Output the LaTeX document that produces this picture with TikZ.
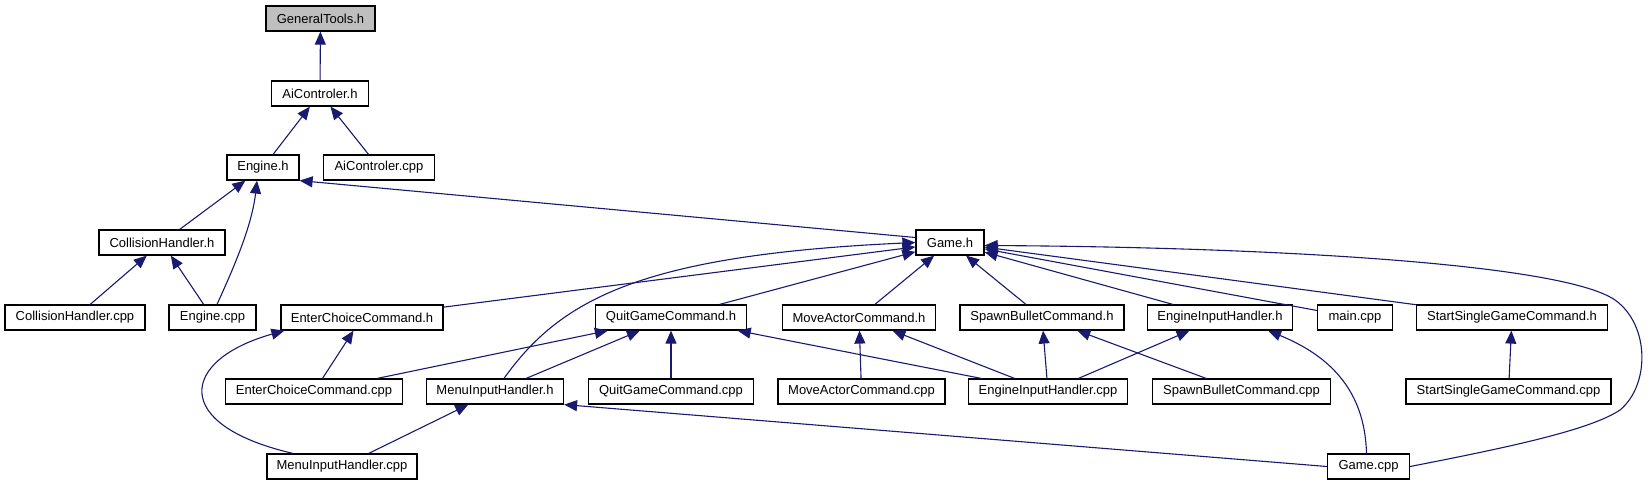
\documentclass[tikz,border=0pt]{standalone}
\usepackage{fontspec}
\setmainfont{Liberation Sans}
\definecolor{edgeblue}{HTML}{191970}
\definecolor{rootgray}{HTML}{BFBFBF}
\usepackage{tikz}
\usetikzlibrary{
    arrows.meta,
    calc
}
\tikzstyle{filebox} = [
    rectangle,
    draw=black,
    fill=white,
    line width=1.2pt,
    minimum height=25pt,
    inner sep=0pt,
    font=\fontsize{13}{15}\selectfont
]
\tikzstyle{rootbox} = [
    filebox,
    fill=rootgray
]
\tikzstyle{dep} = [
    -{Triangle[length=13pt,width=11pt,fill=edgeblue]},
    line width=1.1pt,
    draw=edgeblue
]

\begin{document}
\begin{tikzpicture}[x=1pt, y=-1pt]
    \useasboundingbox (0,0) rectangle (1650,485);
    % nodes
    \node[rootbox, minimum width=109pt] (gen) at (320.5,18.5) {GeneralTools.h};
    \node[filebox, minimum width=97pt] (aich) at (320,93.5) {AiControler.h};
    \node[filebox, minimum width=72pt] (engh) at (263,167.5) {Engine.h};
    \node[filebox, minimum width=111pt] (aiccpp) at (379,167.5) {AiControler.cpp};
    \node[filebox, minimum width=126pt] (collh) at (162,242.5) {CollisionHandler.h};
    \node[filebox, minimum width=68pt] (gameh) at (950,242.5) {Game.h};
    \node[filebox, minimum width=140pt] (collcpp) at (75,317.5) {CollisionHandler.cpp};
    \node[filebox, minimum width=87pt] (engcpp) at (212.5,317.5) {Engine.cpp};
    \node[filebox, minimum width=162pt] (entch) at (362,317.5) {EnterChoiceCommand.h};
    \node[filebox, minimum width=151pt] (quith) at (671,317.5) {QuitGameCommand.h};
    \node[filebox, minimum width=153pt] (moveh) at (859,317.5) {MoveActorCommand.h};
    \node[filebox, minimum width=164pt] (spawnh) at (1042,317.5) {SpawnBulletCommand.h};
    \node[filebox, minimum width=145pt] (einh) at (1220,317.5) {EngineInputHandler.h};
    \node[filebox, minimum width=75pt] (maincpp) at (1355,317.5) {main.cpp};
    \node[filebox, minimum width=191pt] (starth) at (1512,317.5) {StartSingleGameCommand.h};
    \node[filebox, minimum width=177pt] (entccpp) at (314,391.5) {EnterChoiceCommand.cpp};
    \node[filebox, minimum width=137pt] (menuh) at (495,391.5) {MenuInputHandler.h};
    \node[filebox, minimum width=165pt] (quitcpp) at (671,391.5) {QuitGameCommand.cpp};
    \node[filebox, minimum width=167pt] (movecpp) at (861.5,391.5) {MoveActorCommand.cpp};
    \node[filebox, minimum width=159pt] (eincpp) at (1048,391.5) {EngineInputHandler.cpp};
    \node[filebox, minimum width=178pt] (spawncpp) at (1241.5,391.5) {SpawnBulletCommand.cpp};
    \node[filebox, minimum width=205pt] (startcpp) at (1508.5,391.5) {StartSingleGameCommand.cpp};
    \node[filebox, minimum width=150pt] (menucpp) at (342,466.5) {MenuInputHandler.cpp};
    \node[filebox, minimum width=82pt] (gamecpp) at (1368.5,466.5) {Game.cpp};
    % include edges
    \draw[dep] (aich) -- (gen);
    \draw[dep] (engh) -- (aich);
    \draw[dep] (aiccpp) -- (aich);
    \draw[dep] (collh) -- (engh);
    \draw[dep] ($(engcpp.north)+(4.5,0)$) .. controls (235,265) and (252,225) .. ($(engh.south)+(-6,0)$);
    \draw[dep] ($(gameh.west)+(0,-5)$) -- (engh.south east);
    \draw[dep] (collcpp) -- (collh);
    \draw[dep] (engcpp) -- (collh);
    \draw[dep] (entch) -- (gameh);
    \draw[dep] ($(menuh.north)+(9,0)$) .. controls (560,300) and (640,255) .. (gameh.west);
    \draw[dep] (quith) -- (gameh);
    \draw[dep] (moveh) -- (gameh);
    \draw[dep] (spawnh) -- (gameh);
    \draw[dep] (einh) -- (gameh);
    \draw[dep] (maincpp) -- (gameh);
    \draw[dep] (starth) -- (gameh);
    \draw[dep] (gamecpp.east) .. controls (1510,447) and (1590,430) .. (1620,410)
        .. controls (1650,385) and (1650,325) .. (1615,300)
        .. controls (1560,262) and (1250,247) .. ($(gameh.east)+(0,3)$);
    \draw[dep] (entccpp) -- (entch);
    \draw[dep] ($(menucpp.north)+(-49,0)$) .. controls (170,425) and (180,360) .. ($(entch.south west)+(4,0)$);
    \draw[dep] (entccpp) -- (quith);
    \draw[dep] (menuh) -- (quith);
    \draw[dep] (quitcpp) -- (quith);
    \draw[dep] (eincpp) -- (quith);
    \draw[dep] (movecpp) -- (moveh);
    \draw[dep] (eincpp) -- (moveh);
    \draw[dep] (eincpp) -- (spawnh);
    \draw[dep] (spawncpp) -- (spawnh);
    \draw[dep] (eincpp) -- (einh);
    \draw[dep] ($(gamecpp.north)+(-2,0)$) .. controls (1365,400) and (1340,360) .. ($(einh.south east)+(-25,0)$);
    \draw[dep] (startcpp) -- (starth);
    \draw[dep] (menucpp) -- (menuh);
    \draw[dep] (gamecpp.west) -- (menuh.south east);
\end{tikzpicture}
\end{document}
